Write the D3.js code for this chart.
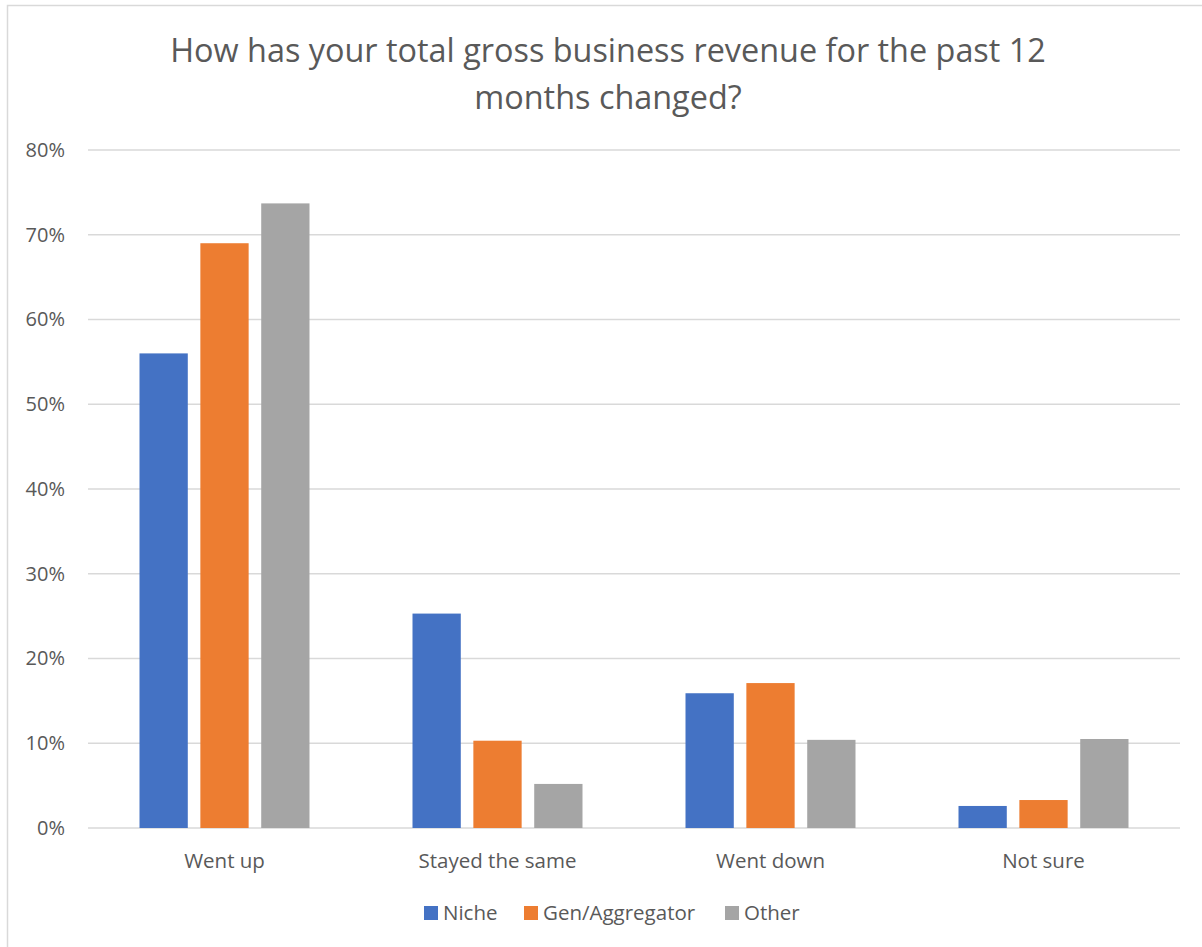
<!DOCTYPE html>
<html>
<head>
<meta charset="utf-8">
<script src="https://cdn.jsdelivr.net/npm/d3@7"></script>
<style>
  html, body { margin: 0; padding: 0; background: #fff; }
  svg { display: block; }
  text { font-family: "Open Sans", "Noto Sans", sans-serif; fill: #595959; }
</style>
</head>
<body>
<script>
// Survey: change in total gross business revenue over the past 12 months
const categories = ["Went up", "Stayed the same", "Went down", "Not sure"];
const seriesNames = ["Niche", "Gen/Aggregator", "Other"];
const niche = [0.560, 0.253, 0.159, 0.026];
const genAggregator = [0.690, 0.103, 0.171, 0.033];
const other = [0.737, 0.052, 0.104, 0.105];
const yTicks = [0, 0.1, 0.2, 0.3, 0.4, 0.5, 0.6, 0.7, 0.8];
const colors = ["#4472C4", "#ED7D31", "#A5A5A5"];
const titleLines = ["How has your total gross business revenue for the past 12", "months changed?"];

const seriesValues = [niche, genAggregator, other];
const rows = categories.map((c, i) => ({
  category: c,
  values: seriesNames.map((s, j) => ({ series: s, value: seriesValues[j][i], color: colors[j] }))
}));

const W = 1202, H = 947;
const plot = { left: 88, right: 1180, top: 150, bottom: 828 };
const FONT = '"Open Sans", "Noto Sans", sans-serif';

const svg = d3.select("body").append("svg").attr("width", W).attr("height", H);

// chart frame
svg.append("rect")
  .attr("x", 7.5).attr("y", 5.5)
  .attr("width", W + 10).attr("height", H + 10)
  .attr("fill", "#fff").attr("stroke", "#D9D9D9").attr("stroke-width", 1.5);

// title
const title = svg.append("text")
  .attr("text-anchor", "middle")
  .style("font-size", "32.4px");
title.selectAll("tspan").data(titleLines).join("tspan")
  .attr("x", 608)
  .attr("y", (d, i) => 62 + i * 47)
  .text(d => d);

const x0 = d3.scaleBand().domain(categories).range([plot.left, plot.right]).padding(0);
const groupWidth = 170;
const x1 = d3.scaleBand().domain(seriesNames)
  .range([(x0.bandwidth() - groupWidth) / 2, (x0.bandwidth() + groupWidth) / 2])
  .paddingInner(0.2066).paddingOuter(0);
const y = d3.scaleLinear().domain([0, 0.8]).range([plot.bottom, plot.top]);

// gridlines
svg.append("g")
  .selectAll("line").data(yTicks).join("line")
  .attr("x1", plot.left).attr("x2", plot.right)
  .attr("y1", d => y(d)).attr("y2", d => y(d))
  .attr("stroke", "#D9D9D9").attr("stroke-width", 1.5);

// y axis labels
const yAxis = svg.append("g")
  .attr("transform", `translate(${plot.left},0)`)
  .call(d3.axisLeft(y).tickValues(yTicks).tickFormat(d3.format(".0%")).tickSize(0).tickPadding(23));
yAxis.select(".domain").remove();
yAxis.selectAll("text")
  .style("font-family", FONT)
  .style("font-size", "20px").attr("fill", "#595959");

// bars
const groups = svg.append("g").selectAll("g").data(rows).join("g")
  .attr("transform", d => `translate(${x0(d.category)},0)`);
groups.selectAll("rect").data(d => d.values).join("rect")
  .attr("x", d => x1(d.series))
  .attr("width", x1.bandwidth())
  .attr("y", d => y(d.value))
  .attr("height", d => y(0) - y(d.value))
  .attr("fill", d => d.color);

// category axis labels
const xAxis = svg.append("g")
  .attr("transform", `translate(0,${plot.bottom})`)
  .call(d3.axisBottom(x0).tickSize(0).tickPadding(25));
xAxis.select(".domain").remove();
xAxis.selectAll("text")
  .style("font-family", FONT)
  .style("font-size", "20.5px").attr("fill", "#595959");

// legend
const legendX = [424, 524, 725];
const legend = svg.append("g").selectAll("g").data(seriesNames).join("g")
  .attr("transform", (d, i) => `translate(${legendX[i]},906)`);
legend.append("rect")
  .attr("width", 14).attr("height", 14)
  .attr("fill", (d, i) => colors[i]);
legend.append("text")
  .attr("x", 19).attr("y", 7).attr("dy", "0.35em")
  .style("font-size", "20.5px")
  .text(d => d);
</script>
</body>
</html>
